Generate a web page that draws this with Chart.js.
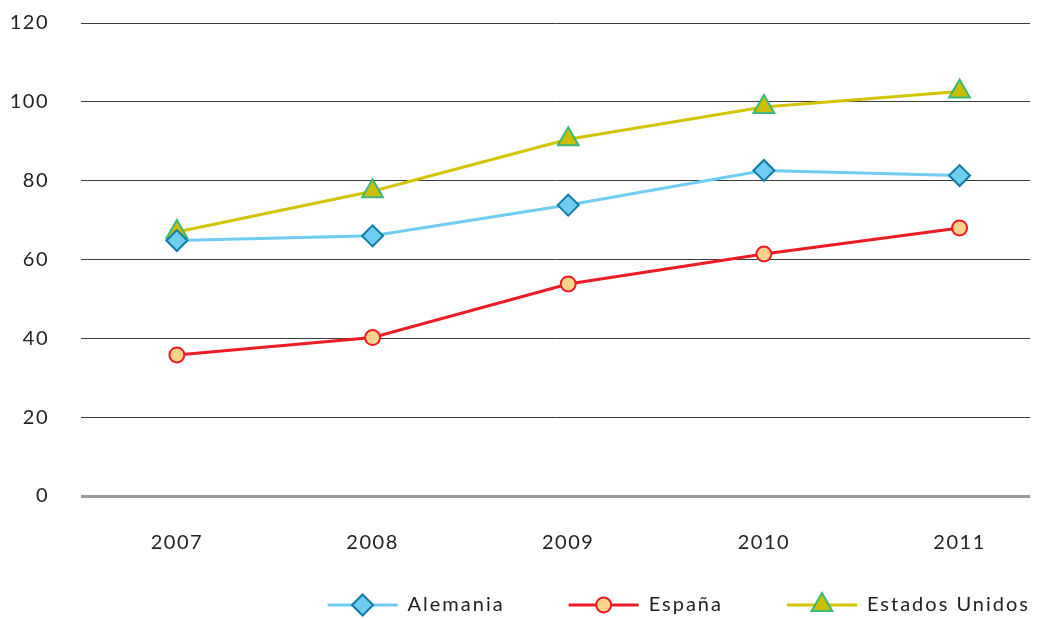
<!DOCTYPE html>
<html>
<head>
<meta charset="utf-8">
<script src="https://cdn.jsdelivr.net/npm/chart.js@4/dist/chart.umd.min.js"></script>
<style>
  html, body { margin: 0; padding: 0; background: #ffffff; }
  #wrap { width: 1044px; height: 619px; position: relative; }
</style>
</head>
<body>
<div id="wrap"><canvas id="c" width="1044" height="619"></canvas></div>
<script>
// Years on the horizontal axis
const years = ['2007', '2008', '2009', '2010', '2011'];
const yTicks = [0, 20, 40, 60, 80, 100, 120];

// Series values
const alemania = [64.8, 66.0, 73.8, 82.6, 81.3];
const espana = [35.8, 40.2, 53.8, 61.4, 68.0];
const estadosUnidos = [67.0, 77.3, 90.5, 98.7, 102.6];

const FONT = 'Lato, "Open Sans", sans-serif';
const FONT_SIZE = 20;
const SPACING = '1.5px';
const LEGEND_SPACING = '2px';

function toPoints(values) {
  return values.map((v, i) => ({ x: i, y: v }));
}

const series = [
  {
    label: 'Alemania', data: toPoints(alemania),
    borderColor: '#6fcdf2', backgroundColor: '#6fcdf2',
    pointStyle: 'rectRot', pointRadius: 10.5, pointBorderColor: '#0f7ba6',
    pointBackgroundColor: '#6fcdf2', pointBorderWidth: 2
  },
  {
    label: 'España', data: toPoints(espana),
    borderColor: '#ec1c24', backgroundColor: '#ec1c24',
    pointStyle: 'circle', pointRadius: 7.5, pointBorderColor: '#ec1c24',
    pointBackgroundColor: '#fdd28a', pointBorderWidth: 2
  },
  {
    label: 'Estados Unidos', data: toPoints(estadosUnidos),
    borderColor: '#d3c400', backgroundColor: '#d3c400',
    pointStyle: 'triangle', pointRadius: 12, pointBorderColor: '#3cb878',
    pointBackgroundColor: '#cbbd00', pointBorderWidth: 2
  }
];

// Slightly tracked lettering for all canvas text
const tracking = {
  id: 'tracking',
  beforeDraw(chart) { chart.ctx.letterSpacing = SPACING; }
};

// Legend below the plot: short line with the series marker, then the name
const lineLegend = {
  id: 'lineLegend',
  afterDraw(chart) {
    const ctx = chart.ctx;
    const area = chart.chartArea;
    const y = 605;
    const lineLen = 70, textGap = 10, itemGap = 64;
    ctx.save();
    ctx.letterSpacing = LEGEND_SPACING;
    ctx.font = FONT_SIZE + 'px ' + FONT;
    const widths = chart.data.datasets.map(ds => lineLen + textGap + ctx.measureText(ds.label).width);
    const total = widths.reduce((a, b) => a + b, 0) + itemGap * (widths.length - 1);
    let x = area.right - total;
    chart.data.datasets.forEach((ds, i) => {
      ctx.strokeStyle = ds.borderColor;
      ctx.lineWidth = 3;
      ctx.beginPath();
      ctx.moveTo(x, y);
      ctx.lineTo(x + lineLen, y);
      ctx.stroke();
      ctx.fillStyle = ds.pointBackgroundColor;
      ctx.strokeStyle = ds.pointBorderColor;
      ctx.lineWidth = ds.pointBorderWidth;
      Chart.helpers.drawPoint(ctx, {
        pointStyle: ds.pointStyle, radius: ds.pointRadius, rotation: 0,
        borderWidth: ds.pointBorderWidth
      }, x + lineLen / 2, y);
      ctx.fillStyle = '#222222';
      ctx.textBaseline = 'middle';
      ctx.textAlign = 'left';
      ctx.fillText(ds.label, x + lineLen + textGap, y);
      x += widths[i] + itemGap;
    });
    ctx.restore();
  }
};

new Chart(document.getElementById('c'), {
  type: 'line',
  data: {
    datasets: series.map(s => Object.assign({
      borderWidth: 3,
      tension: 0,
      fill: false,
      pointHoverRadius: s.pointRadius
    }, s))
  },
  options: {
    responsive: false,
    animation: false,
    layout: { padding: { top: 23, right: 14, left: 0, bottom: 0 } },
    plugins: {
      legend: { display: false },
      tooltip: { enabled: false }
    },
    scales: {
      x: {
        type: 'linear',
        min: -0.49,
        max: 4.36,
        afterBuildTicks(scale) {
          scale.ticks = years.map((_, i) => ({ value: i }));
        },
        afterFit(scale) { scale.height = 123; },
        grid: { display: false, drawTicks: false },
        border: { display: false },
        ticks: {
          padding: 35,
          color: '#222222',
          font: { family: FONT, size: FONT_SIZE },
          callback: (v) => years[v]
        }
      },
      y: {
        min: 0,
        max: 120,
        afterBuildTicks(scale) {
          scale.ticks = yTicks.map(v => ({ value: v }));
        },
        afterFit(scale) {
          scale.width = 81;
          scale.paddingTop = 0;
          scale.paddingBottom = 0;
        },
        border: { display: false },
        grid: {
          drawTicks: false,
          color: (c) => c.tick && c.tick.value === 0 ? '#9a9a9a' : '#3c3c3c',
          lineWidth: (c) => c.tick && c.tick.value === 0 ? 3 : 1
        },
        ticks: {
          padding: 32,
          color: '#222222',
          font: { family: FONT, size: FONT_SIZE }
        }
      }
    }
  },
  plugins: [tracking, lineLegend]
});
</script>
</body>
</html>
